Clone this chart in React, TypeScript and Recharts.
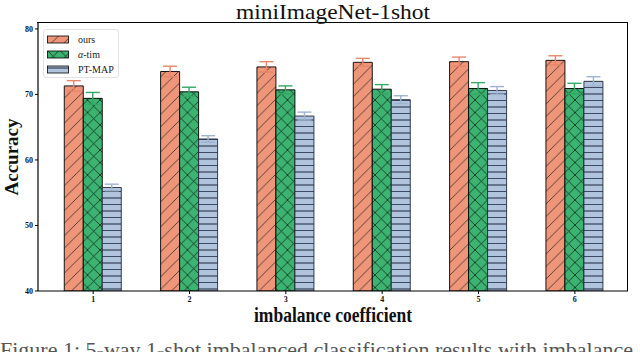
import React from "react";
import { BarChart, Bar, XAxis, YAxis, ErrorBar, Label } from "recharts";

const categories = ["1", "2", "3", "4", "5", "6"];
const oursValues = [71.3, 73.5, 74.2, 74.9, 75.0, 75.2];
const oursErrors = [0.8, 0.8, 0.8, 0.6, 0.7, 0.7];
const timValues = [69.4, 70.4, 70.7, 70.8, 70.9, 70.9];
const timErrors = [0.9, 0.7, 0.6, 0.7, 0.9, 0.8];
const ptmapValues = [55.8, 63.2, 66.7, 69.2, 70.6, 72.0];
const ptmapErrors = [0.5, 0.5, 0.6, 0.6, 0.6, 0.7];
const yTicks = [40, 50, 60, 70, 80];
const Y_MIN = 40;
const Y_MAX = 80.9;

const data = categories.map((c, i) => ({
  cat: c,
  ours: oursValues[i],
  oursErr: oursErrors[i],
  tim: timValues[i],
  timErr: timErrors[i],
  ptmap: ptmapValues[i],
  ptmapErr: ptmapErrors[i],
}));

const SALMON = "#EE957A";
const GREEN = "#3CB371";
const STEEL = "#B0C4DE";
const SERIF = "'Liberation Serif', 'DejaVu Serif', serif";

const series = [
  { key: "ours", label: "ours", fill: "url(#hatchOurs)" },
  { key: "tim", label: "α-tim", fill: "url(#hatchTim)" },
  { key: "ptmap", label: "PT-MAP", fill: "url(#hatchPt)" },
];

const Patterns = () => (
  <svg width={0} height={0} style={{ position: "absolute" }}>
    <defs>
      <pattern id="hatchOurs" patternUnits="userSpaceOnUse" width={12.5} height={12.5}>
        <rect width={12.5} height={12.5} fill={SALMON} />
        <path d="M-3,3 L3,-3 M0,12.5 L12.5,0 M9.5,15.5 L15.5,9.5" stroke="#3a2a25" strokeWidth={0.8} />
      </pattern>
      <pattern id="hatchTim" patternUnits="userSpaceOnUse" width={12.5} height={12.5}>
        <rect width={12.5} height={12.5} fill={GREEN} />
        <path d="M-3,3 L3,-3 M0,12.5 L12.5,0 M9.5,15.5 L15.5,9.5 M-3,9.5 L3,15.5 M0,0 L12.5,12.5 M9.5,-3 L15.5,3" stroke="#102a1a" strokeWidth={0.8} />
      </pattern>
      <pattern id="hatchPt" patternUnits="userSpaceOnUse" width={10} height={13}>
        <rect width={10} height={13} fill={STEEL} />
        <path d="M0,3 L10,3" stroke="#1d2638" strokeWidth={1} />
        <path d="M0,9.5 L10,9.5" stroke="#3c4a64" strokeWidth={1} />
      </pattern>
    </defs>
  </svg>
);

const LegendBox = () => (
  <div
    style={{
      position: "absolute",
      left: 43,
      top: 29,
      width: 76,
      height: 49,
      border: "1px solid #e2e2e2",
      borderRadius: 3,
      background: "rgba(255,255,255,0.85)",
      boxSizing: "border-box",
      paddingTop: 2,
    }}
  >
    {series.map((s) => (
      <div key={s.key} style={{ display: "flex", alignItems: "center", height: 15, paddingLeft: 3 }}>
        <svg width={22} height={9}>
          <rect x={0.5} y={1} width={21} height={7} fill={s.fill} stroke="#000" strokeWidth={0.8} />
        </svg>
        <span style={{ fontFamily: SERIF, fontSize: 10, marginLeft: 9, color: "#222", lineHeight: "10px" }}>
          {s.key === "tim" ? (
            <>
              <i>α</i>-tim
            </>
          ) : (
            s.label
          )}
        </span>
      </div>
    ))}
  </div>
);

const XLabel = (props: any) => {
  const vb = props.viewBox;
  const cx = vb.x + vb.width / 2;
  return (
    <text
      x={cx}
      y={322}
      textAnchor="middle"
      fontFamily={SERIF}
      fontWeight="bold"
      fontSize={20}
      textLength={158}
      lengthAdjust="spacingAndGlyphs"
      fill="#111"
    >
      imbalance coefficient
    </text>
  );
};

const YLabel = () => (
  <text
    x={18}
    y={157}
    transform="rotate(-90, 18, 157)"
    textAnchor="middle"
    fontFamily={SERIF}
    fontWeight="bold"
    fontSize={18}
    textLength={77}
    lengthAdjust="spacingAndGlyphs"
    fill="#111"
  >
    Accuracy
  </text>
);

const tickStyle = { fontFamily: SERIF, fontSize: 8, fontWeight: "bold" as const, fill: "#111" };

export default function App() {
  return (
    <div style={{ position: "absolute", left: 0, top: 0, width: 640, height: 352, overflow: "hidden", background: "#fff" }}>
      <Patterns />
      <BarChart
        width={640}
        height={352}
        data={data}
        margin={{ top: 23, right: 12, bottom: 31, left: 8 }}
        barCategoryGap="20%"
        barGap={0}
      >
        <XAxis
          dataKey="cat"
          padding={{ left: 7, right: 5 }}
          tick={tickStyle}
          tickSize={3}
          height={30}
          axisLine={{ stroke: "#000", strokeWidth: 1.2 }}
          tickLine={{ stroke: "#000" }}
        >
          <Label content={XLabel} />
        </XAxis>
        <YAxis
          domain={[Y_MIN, Y_MAX]}
          ticks={yTicks}
          allowDataOverflow
          width={30}
          tick={tickStyle}
          tickSize={3}
          axisLine={{ stroke: "#000", strokeWidth: 1.2 }}
          tickLine={{ stroke: "#000" }}
        >
          <Label content={YLabel} />
        </YAxis>
        <Bar dataKey="ours" fill="url(#hatchOurs)" stroke="#000" strokeWidth={0.9} isAnimationActive={false}>
          <ErrorBar dataKey="oursErr" width={7} stroke="#E8866A" strokeWidth={1.4} />
        </Bar>
        <Bar dataKey="tim" fill="url(#hatchTim)" stroke="#000" strokeWidth={0.9} isAnimationActive={false}>
          <ErrorBar dataKey="timErr" width={7} stroke="#34a865" strokeWidth={1.4} />
        </Bar>
        <Bar dataKey="ptmap" fill="url(#hatchPt)" stroke="#222a3a" strokeWidth={0.9} isAnimationActive={false}>
          <ErrorBar dataKey="ptmapErr" width={7} stroke="#9fb3d0" strokeWidth={1.4} />
        </Bar>
      </BarChart>
      <div
        style={{
          position: "absolute",
          left: 37,
          top: 22,
          width: 591,
          height: 269,
          borderTop: "1.5px solid #000",
          borderRight: "1.5px solid #000",
          boxSizing: "border-box",
          pointerEvents: "none",
        }}
      />
      <LegendBox />
      <svg width={640} height={352} style={{ position: "absolute", left: 0, top: 0, pointerEvents: "none" }}>
        <text
          x={333}
          y={19}
          textAnchor="middle"
          fontFamily={SERIF}
          fontSize={21}
          textLength={194}
          lengthAdjust="spacingAndGlyphs"
          fill="#111"
        >
          miniImageNet-1shot
        </text>
        <text x={0} y={357} fontFamily={SERIF} fontSize={22} fill="#555">
          Figure 1: 5-way 1-shot imbalanced classification results with imbalance
        </text>
      </svg>
    </div>
  );
}
